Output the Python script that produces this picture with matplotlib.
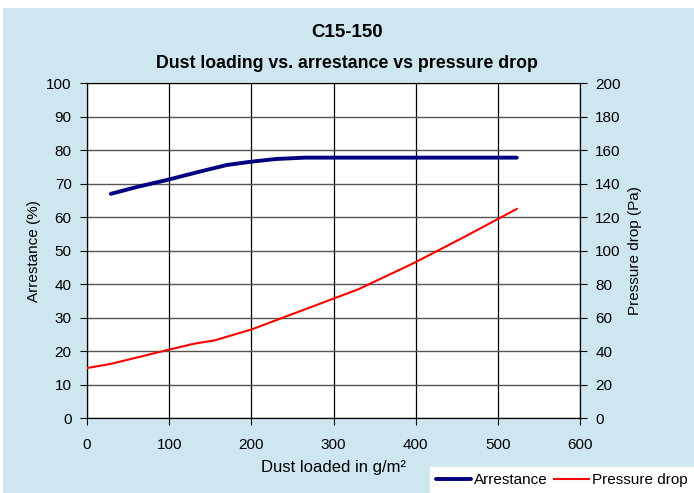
import matplotlib
matplotlib.use('Agg')
import matplotlib.pyplot as plt
from matplotlib.patches import Rectangle

plt.rcParams['font.family'] = ['Liberation Sans', 'DejaVu Sans']

# data
dust_arr = [29, 60, 100, 135, 170, 200, 230, 265, 330, 400, 460, 523]
arrestance = [67.0, 69.0, 71.3, 73.5, 75.6, 76.6, 77.4, 77.8, 77.8, 77.8, 77.8, 77.8]

dust_dp = [0, 29, 100, 130, 155, 200, 265, 330, 397, 460, 523]
pressure_drop = [30, 32.5, 41, 44.5, 46.5, 53, 65, 77, 92.5, 108.5, 125]

fig = plt.figure(figsize=(6.94, 4.93), dpi=100, facecolor='white')
# light blue chart background
fig.patches.append(Rectangle((3 / 694, 0), 1, (493 - 8) / 493,
                             transform=fig.transFigure, facecolor='#CDE6F0',
                             edgecolor='none', zorder=-10))

ax = fig.add_axes([0.1254, 0.1515, 0.7104, 0.6796])
ax.set_facecolor('white')
ax.plot(dust_arr, arrestance, color='#000080', linewidth=2.8, label='Arrestance',
        solid_capstyle='round', zorder=5)
ax.set_xlim(0, 600)
ax.set_ylim(0, 100)
ax.set_xticks(range(0, 601, 100))
ax.set_yticks(range(0, 101, 10))
ax.tick_params(direction='out', length=5, labelsize=11, colors='black')
ax.tick_params(axis='y', pad=6)
ax.tick_params(axis='x', pad=9)
ax.set_xlabel('Dust loaded in g/m²', fontsize=12, labelpad=6)
ax.set_ylabel('Arrestance (%)', fontsize=11, labelpad=4)
ax.yaxis.grid(True, color='#555555', linewidth=1.0)
ax.xaxis.grid(True, color='black', linewidth=0.9)
ax.set_axisbelow(True)
for s in ax.spines.values():
    s.set_color('black')
ax.spines['top'].set_color('#808080')

ax2 = ax.twinx()
ax2.plot(dust_dp, pressure_drop, color='#FF0000', linewidth=1.5, label='Pressure drop',
         zorder=5)
ax2.set_ylim(0, 200)
ax2.set_yticks(range(0, 201, 20))
ax2.tick_params(direction='out', length=5, labelsize=11, pad=6)
ax2.set_ylabel('Pressure drop (Pa)', fontsize=11, labelpad=5)

fig.text(0.5, 0.935, 'C15-150', ha='center', va='center', fontsize=13.5, fontweight='bold')
fig.text(0.5, 0.871, 'Dust loading vs. arrestance vs pressure drop', ha='center',
         va='center', fontsize=12.8, fontweight='bold')

h1, l1 = ax.get_legend_handles_labels()
h2, l2 = ax2.get_legend_handles_labels()
leg = fig.legend(h1 + h2, l1 + l2, loc='lower right', bbox_to_anchor=(1.0, 0.0),
                 ncol=2, fontsize=11, frameon=True, fancybox=False,
                 handlelength=2.3, handletextpad=0.2, columnspacing=0.4,
                 borderpad=0.4, borderaxespad=0)
leg.get_frame().set_facecolor('white')
leg.get_frame().set_edgecolor('white')
leg.get_frame().set_alpha(1)

fig.savefig('out.png', dpi=100, facecolor='white')
